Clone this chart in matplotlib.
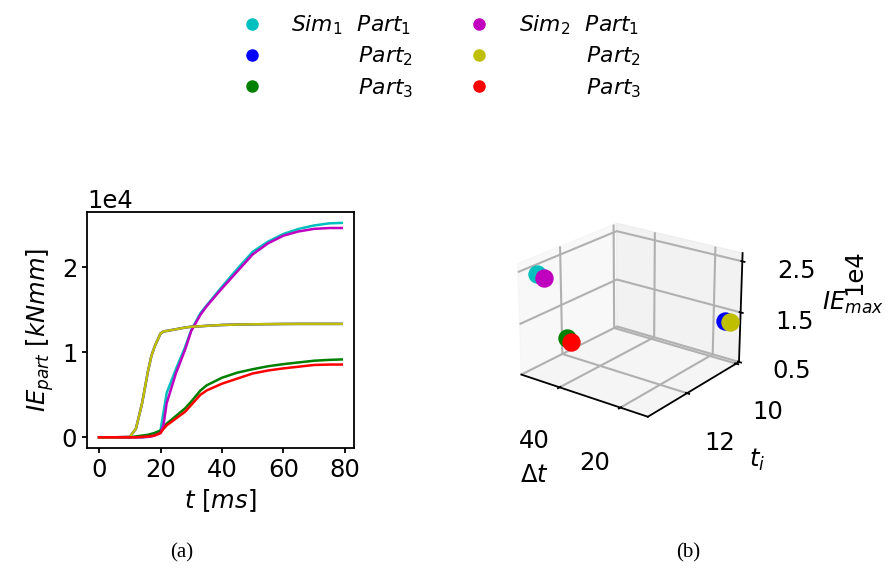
import numpy as np
import matplotlib
matplotlib.use("Agg")
import matplotlib.pyplot as plt
from matplotlib.lines import Line2D
from matplotlib.ticker import FuncFormatter

# Internal energy histories of each part, two simulations
t = [0, 5, 10, 12, 14, 16, 17, 18, 20, 21, 22, 25, 28, 30, 33, 35, 40, 45, 50, 55, 60, 65, 70, 75, 79]

sim1_part1 = [0, 0, 0, 0, 0, 100, 200, 300, 800, 3000, 5200, 8000, 10600, 12600, 14600, 15500,
              17700, 19800, 21800, 23000, 23900, 24500, 24900, 25150, 25200]
sim1_part2 = [0, 0, 50, 1000, 4000, 7900, 9500, 10600, 12200, 12450, 12500, 12700, 12900, 13000,
              13050, 13100, 13200, 13250, 13280, 13300, 13320, 13330, 13330, 13330, 13330]
sim1_part3 = [0, 0, 0, 100, 200, 300, 400, 500, 800, 1100, 1600, 2500, 3400, 4200, 5500, 6100,
              7000, 7600, 8000, 8350, 8600, 8800, 9000, 9100, 9150]
sim2_part1 = [0, 0, 0, 0, 0, 50, 100, 200, 500, 1500, 4000, 7500, 10300, 12500, 14400, 15400,
              17500, 19500, 21500, 22800, 23700, 24200, 24500, 24600, 24600]
sim2_part2 = [0, 0, 50, 1000, 4000, 7900, 9500, 10600, 12200, 12450, 12500, 12700, 12900, 13000,
              13050, 13100, 13200, 13250, 13280, 13300, 13320, 13330, 13330, 13330, 13330]
sim2_part3 = [0, 0, 0, 0, 50, 100, 150, 200, 500, 1000, 1400, 2200, 3000, 3800, 5000, 5500,
              6300, 6900, 7500, 7850, 8100, 8300, 8500, 8550, 8550]

# Scatter summary: rise duration, initiation time, peak energy
dt_sim1 = [47.8, 14.7, 50.6]
ti_sim1 = [13.37, 10.10, 12.11]
ie_sim1 = [25200, 13330, 9150]
dt_sim2 = [46.4, 13.3, 49.2]
ti_sim2 = [13.28, 10.08, 12.09]
ie_sim2 = [24600, 13330, 8550]

colors_sim1 = ["c", "b", "g"]
colors_sim2 = ["m", "y", "r"]
labels_sim1 = [r"$Sim_1\ \ Part_1$", r"$\quad\quad\ \ \ \,Part_2$", r"$\quad\quad\ \ \ \,Part_3$"]
labels_sim2 = [r"$Sim_2\ \ Part_1$", r"$\quad\quad\ \ \ \,Part_2$", r"$\quad\quad\ \ \ \,Part_3$"]

FS = 17.5
plt.rcParams.update({
    "font.size": FS,
    "axes.linewidth": 1.3,
    "xtick.major.width": 1.3,
    "ytick.major.width": 1.3,
    "grid.linewidth": 1.5,
    "grid.color": "#b0b0b0",
})

fig = plt.figure(figsize=(8.87, 5.71), dpi=100)

# (a) time histories
ax1 = fig.add_axes([0.098, 0.2154, 0.301, 0.413])
for ys, c in zip([sim1_part1, sim1_part2, sim1_part3], colors_sim1):
    ax1.plot(t, ys, color=c, lw=1.8)
for ys, c in zip([sim2_part1, sim2_part2, sim2_part3], colors_sim2):
    ax1.plot(t, ys, color=c, lw=1.8)
ax1.set_xticks([0, 20, 40, 60, 80])
ax1.ticklabel_format(axis="y", style="sci", scilimits=(0, 0))
ax1.set_xlabel(r"$t\ [ms]$")
ax1.set_ylabel(r"$IE_{part}\ [kNmm]$")

# (b) peak energy vs timing
ax2 = fig.add_axes([0.543, 0.229, 0.33, 0.43], projection="3d")
ax2.computed_zorder = False
for i in range(3):
    ax2.scatter(dt_sim1[i], ti_sim1[i], ie_sim1[i], color=colors_sim1[i], s=150, depthshade=False)
for i in range(3):
    ax2.scatter(dt_sim2[i], ti_sim2[i], ie_sim2[i], color=colors_sim2[i], s=150, depthshade=False)
ax2.view_init(elev=22, azim=127)
ax2.set_xlim(11.4, 53.3)
ax2.set_ylim(9.88, 13.46)
ax2.set_zlim(5000, 26600)
ax2.set_xticks([20, 40])
ax2.set_yticks([10, 12])
ax2.set_zticks([5000, 15000, 25000])
ax2.zaxis.set_major_formatter(FuncFormatter(lambda v, p: f"{v/1e4:.1f}"))
for a in (ax2.xaxis, ax2.yaxis, ax2.zaxis):
    a.set_tick_params(pad=15)
    a.set_rotate_label(False)
ax2.set_xlabel(r"$\Delta t$", labelpad=22)
ax2.set_ylabel(r"$t_i$", labelpad=22)
ax2.set_zlabel(r"$IE_{max}$", rotation=0, labelpad=27)
fig.text(0.963, 0.524, "1e4", rotation=90, fontsize=FS, ha="center", va="center")

handles = [Line2D([], [], ls="none", marker="o", ms=8, color=c) for c in colors_sim1 + colors_sim2]
fig.legend(handles, labels_sim1 + labels_sim2, loc="upper center", bbox_to_anchor=(0.491, 1.011),
           ncol=2, frameon=False, fontsize=15.75, handletextpad=0.8, columnspacing=2.0,
           labelspacing=0.35)

fig.text(0.205, 0.023, "(a)", family="Liberation Serif", fontsize=15, ha="center")
fig.text(0.776, 0.023, "(b)", family="Liberation Serif", fontsize=15, ha="center")

fig.savefig("out.png", dpi=100)
